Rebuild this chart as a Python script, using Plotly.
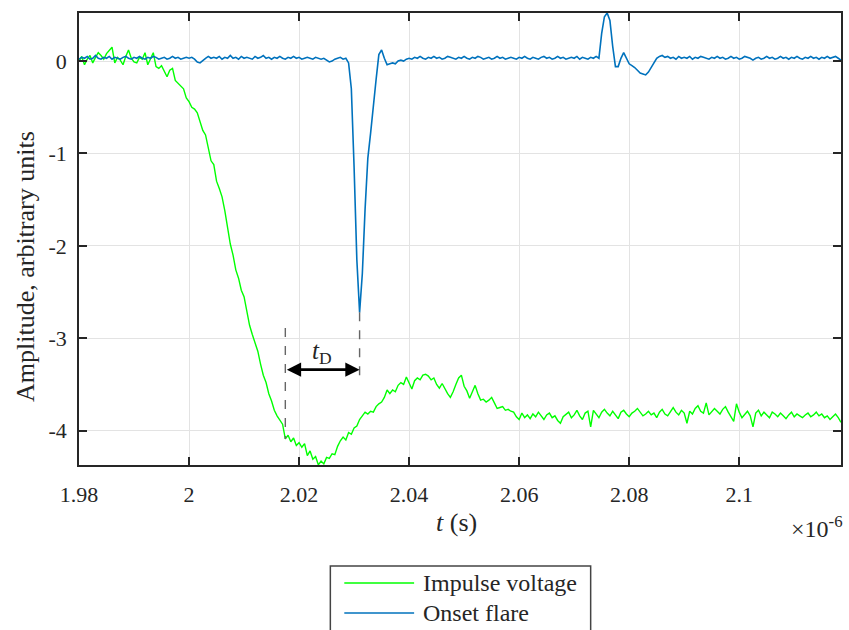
import numpy as np
import plotly.graph_objects as go

# Sample spacing (in units of 1e-6 s) and start time of both records
T0 = 1.98
DT = 0.0005

# Impulse voltage record (arbitrary units)
impulse_voltage = [
    0.00, 0.05, -0.04, 0.02, 0.06, -0.02, 0.04, 0.09, 0.06, 0.02,
    0.08, 0.12, 0.15, -0.02, 0.04, 0.01, -0.04, 0.05, 0.12, 0.03,
    -0.01, -0.02, 0.04, 0.02, 0.09, -0.04, 0.03, 0.09, -0.06, -0.08,
    -0.05, -0.12, -0.17, -0.10, -0.08, -0.21, -0.24, -0.27, -0.30, -0.40,
    -0.44, -0.50, -0.52, -0.56, -0.67, -0.75, -0.80, -0.95, -1.08, -1.12,
    -1.30, -1.38, -1.47, -1.62, -1.80, -1.98, -2.10, -2.26, -2.35, -2.48,
    -2.55, -2.72, -2.86, -2.96, -3.06, -3.14, -3.28, -3.40, -3.48, -3.60,
    -3.68, -3.78, -3.84, -3.88, -3.93, -4.09, -4.05, -4.12, -4.08, -4.16,
    -4.13, -4.18, -4.14, -4.27, -4.22, -4.31, -4.28, -4.37, -4.33, -4.36,
    -4.29, -4.30, -4.25, -4.26, -4.17, -4.11, -4.07, -4.10, -4.02, -4.04,
    -3.97, -3.95, -3.88, -3.84, -3.80, -3.82, -3.79, -3.80, -3.74, -3.71,
    -3.69, -3.64, -3.56, -3.60, -3.56, -3.58, -3.51, -3.48, -3.50, -3.42,
    -3.48, -3.55, -3.46, -3.43, -3.45, -3.40, -3.39, -3.41, -3.45, -3.43,
    -3.50, -3.54, -3.49, -3.55, -3.60, -3.64, -3.58, -3.50, -3.43, -3.40,
    -3.52, -3.57, -3.65, -3.58, -3.51, -3.60, -3.67, -3.66, -3.69, -3.67,
    -3.64, -3.70, -3.76, -3.75, -3.74, -3.78, -3.77, -3.79, -3.80, -3.85,
    -3.88, -3.81, -3.86, -3.83, -3.87, -3.82, -3.85, -3.80, -3.84, -3.88,
    -3.83, -3.81, -3.86, -3.84, -3.89, -3.92, -3.85, -3.82, -3.80, -3.86,
    -3.83, -3.78, -3.84, -3.88, -3.81, -3.79, -3.96, -3.78, -3.82, -3.86,
    -3.80, -3.77, -3.81, -3.84, -3.79, -3.83, -3.87, -3.80, -3.78, -3.82,
    -3.85, -3.81, -3.79, -3.76, -3.80, -3.84, -3.82, -3.79, -3.83, -3.81,
    -3.86, -3.80, -3.77, -3.82, -3.84, -3.79, -3.75, -3.80, -3.83, -3.78,
    -3.81, -3.92, -3.79, -3.82, -3.76, -3.73, -3.79, -3.81, -3.70, -3.83,
    -3.80, -3.76, -3.79, -3.82, -3.77, -3.74, -3.80, -3.85, -3.90, -3.71,
    -3.80, -3.86, -3.82, -3.79, -3.84, -3.96, -3.81, -3.78, -3.84, -3.80,
    -3.83, -3.86, -3.80, -3.82, -3.85, -3.81, -3.84, -3.87, -3.83, -3.80,
    -3.85, -3.82, -3.84, -3.86, -3.83, -3.81, -3.85, -3.83, -3.80, -3.84,
    -3.82, -3.86, -3.84, -3.88, -3.85, -3.82, -3.86, -3.91,
]

# Onset flare (light) record (arbitrary units)
onset_flare = [
    0.02, 0.04, 0.03, 0.05, 0.02, 0.03, 0.06, 0.03, 0.02, 0.04,
    0.03, 0.05, 0.02, 0.04, 0.03, 0.02, 0.04, 0.05, 0.03, 0.02,
    0.04, 0.03, 0.05, 0.03, 0.02, 0.04, 0.03, 0.05, 0.04, 0.02,
    0.03, 0.04, 0.02, 0.03, 0.05, 0.03, 0.04, 0.02, 0.03, 0.04,
    0.03, 0.04, 0.02, -0.01, -0.02, 0.01, 0.03, 0.05, 0.03, 0.04,
    0.03, 0.05, 0.02, 0.04, 0.03, 0.06, 0.03, 0.04, 0.02, 0.05,
    0.03, 0.04, 0.03, 0.02, 0.05, 0.03, 0.04, 0.06, 0.03, 0.04,
    0.02, 0.04, 0.03, 0.05, 0.03, 0.02, 0.04, 0.03, 0.05, 0.03,
    0.04, 0.02, 0.03, 0.04, 0.03, 0.02, 0.04, 0.03, 0.02, 0.03,
    0.01, -0.01, 0.00, 0.02, 0.03, 0.04, 0.02, 0.03, -0.02, -0.30,
    -1.15, -2.15, -2.72, -2.30, -1.60, -1.05, -0.78, -0.45, -0.20, 0.07,
    0.12, 0.03, -0.04, -0.03, -0.02, -0.03, 0.00, 0.01, 0.00, 0.02,
    0.03, 0.02, 0.04, 0.03, 0.05, 0.03, 0.02, 0.04, 0.03, 0.05,
    0.03, 0.04, 0.02, 0.03, 0.05, 0.04, 0.03, 0.02, 0.04, 0.03,
    0.05, 0.03, 0.02, 0.04, 0.03, 0.05, 0.04, 0.02, 0.03, 0.04,
    0.02, 0.03, 0.05, 0.03, 0.04, 0.02, 0.03, 0.04, 0.03, 0.02,
    0.04, 0.03, 0.05, 0.03, 0.02, 0.04, 0.03, 0.02, 0.04, 0.05,
    0.03, 0.04, 0.02, 0.03, 0.05, 0.03, 0.04, 0.02, 0.03, 0.04,
    0.03, 0.05, 0.02, 0.04, 0.03, 0.02, 0.04, 0.03, 0.05, 0.03,
    0.30, 0.48, 0.52, 0.44, 0.16, -0.06, -0.06, 0.03, 0.09, 0.03,
    -0.03, -0.05, -0.07, -0.10, -0.13, -0.14, -0.15, -0.12, -0.07, -0.01,
    0.03, 0.05, 0.06, 0.04, 0.05, 0.03, 0.04, 0.02, 0.05, 0.03,
    0.04, 0.03, 0.05, 0.02, 0.04, 0.03, 0.05, 0.04, 0.03, 0.02,
    0.04, 0.03, 0.05, 0.03, 0.04, 0.02, 0.03, 0.05, 0.03, 0.04,
    0.02, 0.03, 0.05, 0.04, 0.03, 0.01, 0.03, 0.04, 0.02, 0.03,
    0.05, 0.03, 0.04, 0.02, 0.03, 0.05, 0.03, 0.04, 0.02, 0.04,
    0.03, 0.05, 0.03, 0.02, 0.04, 0.03, 0.05, 0.03, 0.04, 0.02,
    0.04, 0.03, 0.05, 0.03, 0.04, 0.05, 0.03, 0.01,
]

# Axis ticks
x_ticks = [1.98, 2.00, 2.02, 2.04, 2.06, 2.08, 2.10]
x_tick_labels = ["1.98", "2", "2.02", "2.04", "2.06", "2.08", "2.1"]
y_ticks = [0, -1, -2, -3, -4]
y_tick_labels = ["0", "-1", "-2", "-3", "-4"]
x_range = [1.98, 2.1185]
y_range = [-4.372, 0.52]

# Delay marker: voltage-collapse onset and flare minimum (1e-6 s)
t_start = 2.0175
t_end = 2.0310
marker_top = -2.89
marker_arrow_y = -3.34
marker_end_bottom = -3.47

t_v = T0 + DT * np.arange(len(impulse_voltage))
t_f = T0 + DT * np.arange(len(onset_flare))

serif = "Liberation Serif"
ink = "#262626"

fig = go.Figure()
fig.add_trace(go.Scatter(x=t_v, y=impulse_voltage, mode="lines", name="Impulse voltage",
                         line=dict(color="#00ff00", width=1.4), showlegend=False))
fig.add_trace(go.Scatter(x=t_f, y=onset_flare, mode="lines", name="Onset flare",
                         line=dict(color="#0072bd", width=1.6), showlegend=False))

# Dashed guides of the delay marker
v_at_start = impulse_voltage[int(round((t_start - T0) / DT))]
f_at_end = onset_flare[int(round((t_end - T0) / DT))]
fig.add_shape(type="line", xref="x", yref="y", x0=t_start, x1=t_start,
              y0=marker_top, y1=v_at_start, line=dict(color="#666666", width=1.4, dash="dash"))
fig.add_shape(type="line", xref="x", yref="y", x0=t_end, x1=t_end,
              y0=f_at_end, y1=marker_end_bottom, line=dict(color="#666666", width=1.4, dash="dash"))

# Double-headed arrow for t_D
fig.add_annotation(x=t_end, y=marker_arrow_y, ax=t_start, ay=marker_arrow_y,
                   xref="x", yref="y", axref="x", ayref="y", text="", showarrow=True,
                   arrowside="end+start", arrowhead=2, arrowsize=1.1, arrowwidth=2.6,
                   arrowcolor="black")
fig.add_annotation(x=(t_start + t_end) / 2, y=-3.15, xref="x", yref="y",
                   text="<i>t</i><sub>D</sub>", showarrow=False,
                   font=dict(family=serif, size=25, color=ink))

# Axis titles and exponent
fig.add_annotation(x=0, xref="paper", xanchor="center", xshift=-54,
                   y=0.438, yref="paper", yanchor="middle",
                   text="Amplitude, arbitrary units", textangle=-90, showarrow=False,
                   font=dict(family=serif, size=26, color=ink))
fig.add_annotation(x=0.496, xref="paper", xanchor="center",
                   y=-0.128, yref="paper", yanchor="middle",
                   text="<i>t</i> (s)", showarrow=False,
                   font=dict(family=serif, size=26, color=ink))
fig.add_annotation(x=1.0, xref="paper", xanchor="right", xshift=4,
                   y=-0.138, yref="paper", yanchor="middle",
                   text="×10<sup>-6</sup>", showarrow=False,
                   font=dict(family=serif, size=24, color=ink))

# Legend box
def px_x(p):
    return (p - 79) / 764.0


def px_y(p):
    return (465 - p) / 452.0


fig.add_shape(type="rect", xref="paper", yref="paper",
              x0=px_x(331), x1=px_x(592), y0=px_y(660), y1=px_y(566),
              line=dict(color="#444444", width=1.5), fillcolor="white")
for name, color, row_y in [("Impulse voltage", "#00ff00", 583), ("Onset flare", "#0072bd", 613)]:
    fig.add_shape(type="line", xref="paper", yref="paper",
                  x0=px_x(345), x1=px_x(415), y0=px_y(row_y), y1=px_y(row_y),
                  line=dict(color=color, width=1.6))
    fig.add_annotation(x=px_x(422), y=px_y(row_y), xref="paper", yref="paper",
                       xanchor="left", yanchor="middle", text=name, showarrow=False,
                       font=dict(family=serif, size=24, color=ink))

axis_common = dict(showline=True, linecolor=ink, linewidth=1.5, mirror="ticks",
                   ticks="inside", ticklen=8, tickwidth=1.5, tickcolor=ink,
                   showgrid=True, gridcolor="#e3e3e3", gridwidth=1, zeroline=False,
                   tickfont=dict(family=serif, size=22, color=ink))

fig.update_xaxes(range=x_range, tickmode="array", tickvals=x_ticks, ticktext=x_tick_labels,
                 ticklabelstandoff=9, **axis_common)
fig.update_yaxes(range=y_range, tickmode="array", tickvals=y_ticks, ticktext=y_tick_labels,
                 ticklabelstandoff=6, **axis_common)

fig.update_layout(width=849, height=630, margin=dict(l=79, r=6, t=13, b=165),
                  plot_bgcolor="white", paper_bgcolor="white", showlegend=False)

fig.write_html("out.html")
